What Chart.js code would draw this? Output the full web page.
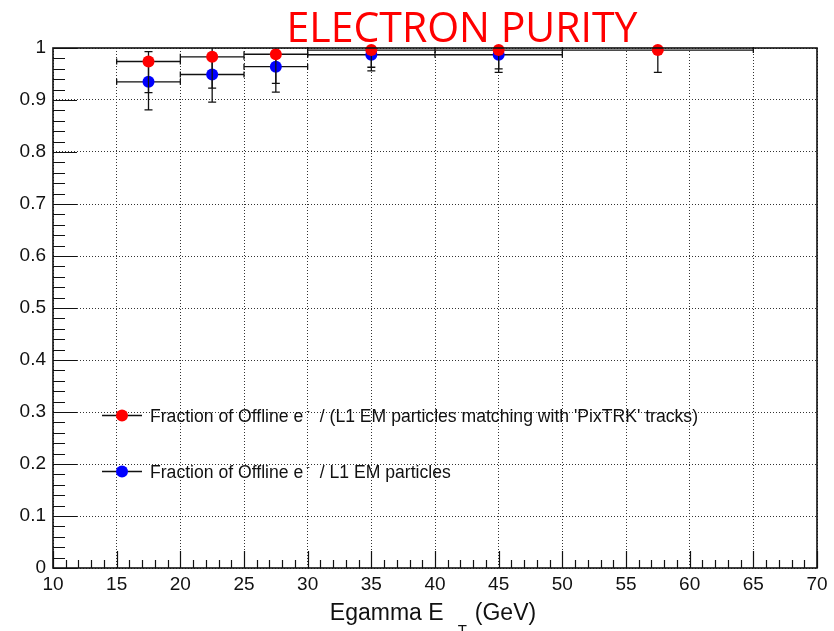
<!DOCTYPE html>
<html>
<head>
<meta charset="utf-8">
<title>Electron purity</title>
<script src="https://cdn.jsdelivr.net/npm/chart.js@4.4.1/dist/chart.umd.min.js"></script>
<style>
  html, body { margin: 0; padding: 0; background: #fff; }
  canvas { display: block; }
</style>
</head>
<body>
<canvas id="purityChart" width="834" height="631"></canvas>
<script>
// Egamma E_T bins (GeV)
const binLow = [15, 20, 25, 30, 40, 50];
const binHigh = [20, 25, 30, 40, 50, 65];
const binCenter = [17.5, 22.5, 27.5, 35, 45, 57.5];

// offline e- / (L1 EM particles matched with PixTRK tracks)
const pixTrkPurity = [0.974, 0.983, 0.988, 0.996, 0.996, 0.996];
const pixTrkLow = [0.914, 0.923, 0.932, 0.963, 0.960, 0.953];
const pixTrkHigh = [0.993, 1.0, 1.0, 1.0, 1.0, 1.0];

// offline e- / all L1 EM particles
const l1Purity = [0.935, 0.949, 0.964, 0.987, 0.987];
const l1Low = [0.881, 0.896, 0.915, 0.956, 0.953];
const l1High = [0.975, 0.985, 0.990, 1.0, 1.0];

const xTickLabels = ["10", "15", "20", "25", "30", "35", "40", "45", "50", "55", "60", "65", "70"];
const yTickLabels = ["0", "0.1", "0.2", "0.3", "0.4", "0.5", "0.6", "0.7", "0.8", "0.9", "1"];

const chartTitle = "ELECTRON PURITY";
const FONT = "'Liberation Sans', Arial, sans-serif";

// red first so it is painted on top of the blue one
const series = [
  {
    label: ["Fraction of Offline e", "-", " / (L1 EM particles matching with 'PixTRK' tracks)"],
    color: "#ff0000", x: binCenter, y: pixTrkPurity, lo: pixTrkLow, hi: pixTrkHigh
  },
  {
    label: ["Fraction of Offline e", "-", " / L1 EM particles"],
    color: "#0000ff", x: binCenter.slice(0, l1Purity.length), y: l1Purity, lo: l1Low, hi: l1High
  }
];

// bin-width and asymmetric y errors, drawn under each dataset's markers
const errorBars = {
  id: "errorBars",
  beforeDatasetDraw(chart, args) {
    const s = series[args.index];
    const xs = chart.scales.x, ys = chart.scales.y;
    const ctx = chart.ctx;
    ctx.save();
    ctx.strokeStyle = "#111";
    ctx.lineWidth = 1.3;
    ctx.beginPath();
    s.y.forEach((v, i) => {
      const px = xs.getPixelForValue(s.x[i]);
      const py = ys.getPixelForValue(v);
      const x0 = xs.getPixelForValue(binLow[i]);
      const x1 = xs.getPixelForValue(binHigh[i]);
      const yLo = ys.getPixelForValue(s.lo[i]);
      const yHi = ys.getPixelForValue(s.hi[i]);
      ctx.moveTo(x0, py); ctx.lineTo(x1, py);
      ctx.moveTo(x0, py - 3); ctx.lineTo(x0, py + 3);
      ctx.moveTo(x1, py - 3); ctx.lineTo(x1, py + 3);
      ctx.moveTo(px, yHi); ctx.lineTo(px, yLo);
      ctx.moveTo(px - 4, yLo); ctx.lineTo(px + 4, yLo);
      if (s.hi[i] < 1) { ctx.moveTo(px - 4, yHi); ctx.lineTo(px + 4, yHi); }
    });
    ctx.stroke();
    ctx.restore();
  }
};

// frame, inward ticks, legend and titles
const decorations = {
  id: "decorations",
  afterDraw(chart) {
    const ctx = chart.ctx;
    const a = chart.chartArea;
    const xs = chart.scales.x, ys = chart.scales.y;
    ctx.save();

    ctx.strokeStyle = "#111";
    ctx.lineWidth = 1.2;
    ctx.beginPath();
    for (let k = 0; k <= 50; k++) {
      const py = Math.round(ys.getPixelForValue(k * 0.02)) + 0.5;
      const len = k % 5 === 0 ? 24 : 12;
      ctx.moveTo(a.left, py); ctx.lineTo(a.left + len, py);
    }
    for (let v = 10; v <= 70; v++) {
      const px = Math.round(xs.getPixelForValue(v)) + 0.5;
      const len = v % 5 === 0 ? 17 : 8;
      ctx.moveTo(px, a.bottom); ctx.lineTo(px, a.bottom - len);
    }
    ctx.stroke();

    ctx.lineWidth = 1.6;
    ctx.strokeRect(a.left, a.top, a.right - a.left, a.bottom - a.top);

    // legend entries
    const legendY = [415.5, 471.5];
    series.forEach((s, i) => {
      const y = legendY[i];
      ctx.strokeStyle = "#111";
      ctx.lineWidth = 1.4;
      ctx.beginPath();
      ctx.moveTo(102, y); ctx.lineTo(142, y);
      ctx.stroke();
      ctx.fillStyle = s.color;
      ctx.beginPath();
      ctx.arc(122, y, 6, 0, Math.PI * 2);
      ctx.fill();

      ctx.fillStyle = "#111";
      ctx.textBaseline = "alphabetic";
      ctx.textAlign = "left";
      let x = 150;
      ctx.font = "17.6px " + FONT;
      ctx.fillText(s.label[0], x, y + 6.5);
      x += ctx.measureText(s.label[0]).width + 3;
      ctx.font = "11px " + FONT;
      ctx.fillText(s.label[1], x, y - 1.5);
      x += ctx.measureText(s.label[1]).width + 5;
      ctx.font = "17.6px " + FONT;
      ctx.fillText(s.label[2], x, y + 6.5);
    });

    // x axis title with subscript
    const t1 = "Egamma E", t2 = "T", t3 = "(GeV)";
    ctx.fillStyle = "#111";
    ctx.font = "23px " + FONT;
    const w1 = ctx.measureText(t1).width, w3 = ctx.measureText(t3).width;
    ctx.font = "15px " + FONT;
    const w2 = ctx.measureText(t2).width;
    const total = w1 + 14 + w2 + 8 + w3;
    let tx = (a.left + a.right) / 2 - 2 - total / 2;
    ctx.font = "23px " + FONT;
    ctx.fillText(t1, tx, 620);
    tx += w1 + 14;
    ctx.font = "15px " + FONT;
    ctx.fillText(t2, tx, 635);
    tx += w2 + 8;
    ctx.font = "23px " + FONT;
    ctx.fillText(t3, tx, 620);

    // red heading, squeezed to its measured width
    ctx.font = "42px 'Open Sans', sans-serif";
    const tw = ctx.measureText(chartTitle).width;
    ctx.translate(462, 42);
    ctx.scale(351 / tw, 1);
    ctx.textAlign = "center";
    ctx.fillStyle = "#ff0000";
    ctx.fillText(chartTitle, 0, 0);

    ctx.restore();
  }
};

new Chart(document.getElementById("purityChart").getContext("2d"), {
  type: "scatter",
  data: {
    datasets: series.map(s => ({
      data: s.y.map((v, i) => ({ x: s.x[i], y: v })),
      backgroundColor: s.color,
      borderWidth: 0,
      pointRadius: 6,
      pointHoverRadius: 6,
      clip: false
    }))
  },
  options: {
    responsive: false,
    animation: false,
    events: [],
    layout: { padding: { top: 48, right: 17, bottom: 0, left: 0 } },
    plugins: {
      legend: { display: false },
      tooltip: { enabled: false }
    },
    scales: {
      x: {
        type: "linear",
        min: 10,
        max: 70,
        afterFit(scale) { scale.height = 63; },
        grid: { color: "#333", lineWidth: 1, drawTicks: false },
        border: { display: false, dash: [1, 2] },
        ticks: {
          stepSize: 5,
          padding: 5,
          maxRotation: 0,
          color: "#111",
          font: { family: FONT, size: 19 },
          callback: v => xTickLabels[Math.round((v - 10) / 5)]
        }
      },
      y: {
        type: "linear",
        min: 0,
        max: 1,
        afterFit(scale) { scale.width = 53; },
        grid: { color: "#333", lineWidth: 1, drawTicks: false },
        border: { display: false, dash: [1, 2] },
        ticks: {
          stepSize: 0.1,
          padding: 7,
          color: "#111",
          font: { family: FONT, size: 19 },
          callback: v => yTickLabels[Math.round(v * 10)]
        }
      }
    }
  },
  plugins: [errorBars, decorations]
});
</script>
</body>
</html>
